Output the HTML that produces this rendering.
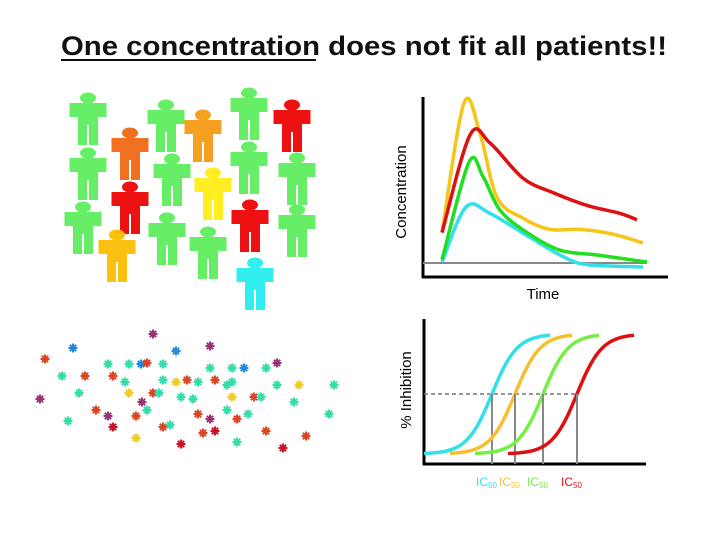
<!DOCTYPE html>
<html><head><meta charset="utf-8"><style>
html,body{margin:0;padding:0;background:#fff;}
svg{display:block;font-family:"Liberation Sans",sans-serif;}
</style></head><body>
<svg id="s" width="720" height="540" viewBox="0 0 720 540">
<text x="364" y="55" text-anchor="middle" font-size="27" font-weight="bold" fill="#111" textLength="606" lengthAdjust="spacingAndGlyphs">One concentration does not fit all patients!!</text>
<line x1="61" y1="60" x2="316" y2="60" stroke="#111" stroke-width="2"/>
<g id="people"></g>
<g id="mol"></g>
<g id="pk">
 <line x1="423" y1="97" x2="423" y2="278" stroke="#000" stroke-width="3"/>
 <line x1="422" y1="277" x2="668" y2="277" stroke="#000" stroke-width="3"/>
 <line x1="423" y1="263" x2="647" y2="263" stroke="#888" stroke-width="2"/>
 <text transform="translate(406,192) rotate(-90)" text-anchor="middle" font-size="15">Concentration</text>
 <text x="543" y="299" text-anchor="middle" font-size="15">Time</text>
</g>
<g id="pd">
 <line x1="424" y1="319" x2="424" y2="465" stroke="#000" stroke-width="3"/>
 <line x1="423" y1="464" x2="646" y2="464" stroke="#000" stroke-width="3"/>
 <text transform="translate(411,390) rotate(-90)" text-anchor="middle" font-size="15">% Inhibition</text>
</g>
</svg>
<script>
const NS="http://www.w3.org/2000/svg";
function mk(t,a,p){const e=document.createElementNS(NS,t);for(const k in a)e.setAttribute(k,a[k]);p.appendChild(e);return e;}
// people
const pCx=[88,130,166,203,249,292,88,172,213,249,297,130,83,250,297,117,167,208,255];
const pTop=[93,128,100,110,88,100,148,154,168,142,153,182,202,200,205,230,213,227,258];
const pCol=["#66ee66","#f07020","#66ee66","#f5a020","#66ee66","#ee1111","#66ee66","#66ee66","#ffee22","#66ee66","#66ee66","#ee1111","#66ee66","#ee1111","#66ee66","#fbc010","#66ee66","#66ee66","#33eeee"];
const P=document.getElementById('people');
pCx.forEach((cx,i)=>{
 const g=mk('g',{},P);
 
 
 const t=pTop[i],c=pCol[i],W=37,H=52;
 mk('ellipse',{cx:cx,cy:t+5,rx:8,ry:5.5,fill:c},g);
 mk('rect',{x:cx-W/2,y:t+10,width:W,height:14,fill:c},g);
 mk('rect',{x:cx-10,y:t+10,width:20,height:22,fill:c},g);
 mk('rect',{x:cx-10,y:t+30,width:9,height:H-30,fill:c},g);
 mk('rect',{x:cx+1,y:t+30,width:9,height:H-30,fill:c},g);
});
// molecules
const mX=[153,73,176,210,45,108,129,141,147,163,210,232,244,266,277,62,85,113,125,163,176,187,198,215,227,232,277,299,334,40,79,129,153,159,142,181,193,232,254,261,294,96,108,136,147,198,227,248,210,237,329,68,113,163,170,203,215,266,306,136,181,237,283];
const mY=[334,348,351,346,359,364,364,364,363,364,368,368,368,368,363,376,376,376,382,380,382,380,382,380,385,382,385,385,385,399,393,393,393,393,402,397,399,397,397,397,402,410,416,416,410,414,410,414,419,419,414,421,427,427,425,433,431,431,436,438,444,442,448];
const mC="p,b,b,p,o,s,s,b,o,s,s,s,b,s,p,s,o,o,s,s,y,o,s,o,s,s,s,y,s,p,s,y,o,s,p,s,s,y,o,s,s,o,p,o,s,o,s,s,p,o,s,s,r,o,s,o,r,o,o,y,r,s,r".split(",");
const cmap={p:"#993377",b:"#2288dd",o:"#dd4422",s:"#33ddaa",y:"#eecc22",r:"#cc1122"};
const M=document.getElementById('mol');
mX.forEach((x,i)=>{
 const g=mk('g',{stroke:cmap[mC[i]]||"#33ddaa","stroke-width":2},M);
 
 
 const y=mY[i];
 for(let a=0;a<4;a++){const an=a*Math.PI/4,dx=4.5*Math.cos(an),dy=4.5*Math.sin(an);mk('line',{x1:x-dx,y1:y-dy,x2:x+dx,y2:y+dy},g);}
});
// PK chart
const pkX=t=>442+t*20, pkY=c=>263-c*1.6;
const yelT=[0,1.1,1.9,2.75,4.05,5.4,6.9,8.55,10.05], yelC=[19,100,81,41,28,21,21,18,12.5];
const redT=[0,1.4,2.4,4.05,5.55,7.25,8.9,9.75], redC=[19,80,75,53,44,36,31,27];
const grnT=[0,1.35,2.05,2.9,4.25,5.9,7.75,10.25], grnC=[2,63,54,33,19,8,5,0.6];
const cyaT=[0,1.2,2.4,4.4,6.05,7.25,10.05], cyaC=[0.6,35,31,16,4,-1,-2.5];
function smooth(pts){let d="M"+pts[0].join(",");for(let i=0;i<pts.length-1;i++){const p0=pts[i-1]||pts[i],p1=pts[i],p2=pts[i+1],p3=pts[i+2]||p2;
 d+=" C"+(p1[0]+(p2[0]-p0[0])/6)+","+(p1[1]+(p2[1]-p0[1])/6)+" "+(p2[0]-(p3[0]-p1[0])/6)+","+(p2[1]-(p3[1]-p1[1])/6)+" "+p2[0]+","+p2[1];}return d;}
const PK=document.getElementById('pk');
[[cyaT,cyaC,"#33e0e8","pk-curve-cyan"],[grnT,grnC,"#22dd22","pk-curve-green"],[yelT,yelC,"#f5c518","pk-curve-yellow"],[redT,redC,"#dd1111","pk-curve-red"]].forEach(s=>{
 const p=mk('path',{d:smooth(s[0].map((t,i)=>[pkX(t),pkY(s[1][i])])),fill:"none",stroke:s[2],"stroke-width":3.5,"stroke-linejoin":"round"},PK);
 
 
});
// PD chart
const ic50=[3.4,4.55,5.95,7.65];
const xStart=[0,1.3,2.55,4.2], xEnd=[6.3,7.45,8.8,10.5];
const pdCol=["#33e0e8","#f5c030","#77ee44","#dd1111"];
const pdNames=["cyan","yellow","green","red"];
const pdX=v=>424+v*20, pdY=p=>454-p*1.2;
const PD=document.getElementById('pd');
const dl=mk('line',{x1:424,y1:pdY(50),x2:pdX(ic50[3]),y2:pdY(50),stroke:"#777","stroke-width":1.5,"stroke-dasharray":"4,3"},PD);


ic50.forEach((v,i)=>{
 const pts=[];for(let x=xStart[i];x<=xEnd[i]+0.001;x+=0.1){pts.push([pdX(x),pdY(100/(1+Math.exp(-(x-v)*1.6)))]);}
 const p=mk('path',{d:"M"+pts.map(q=>q.join(",")).join(" L"),fill:"none",stroke:pdCol[i],"stroke-width":3.5},PD);
 
 
 const l=mk('line',{x1:pdX(v),y1:pdY(50),x2:pdX(v),y2:464,stroke:"#888","stroke-width":2},PD);
 
 
 const t=mk('text',{x:pdX(v)-16,y:486,"font-size":12,fill:pdCol[i]},PD);
 
 
 t.textContent="IC";
 const s=mk('tspan',{"font-size":8,dy:2},t);s.textContent="50";
});
</script>
</body></html>
